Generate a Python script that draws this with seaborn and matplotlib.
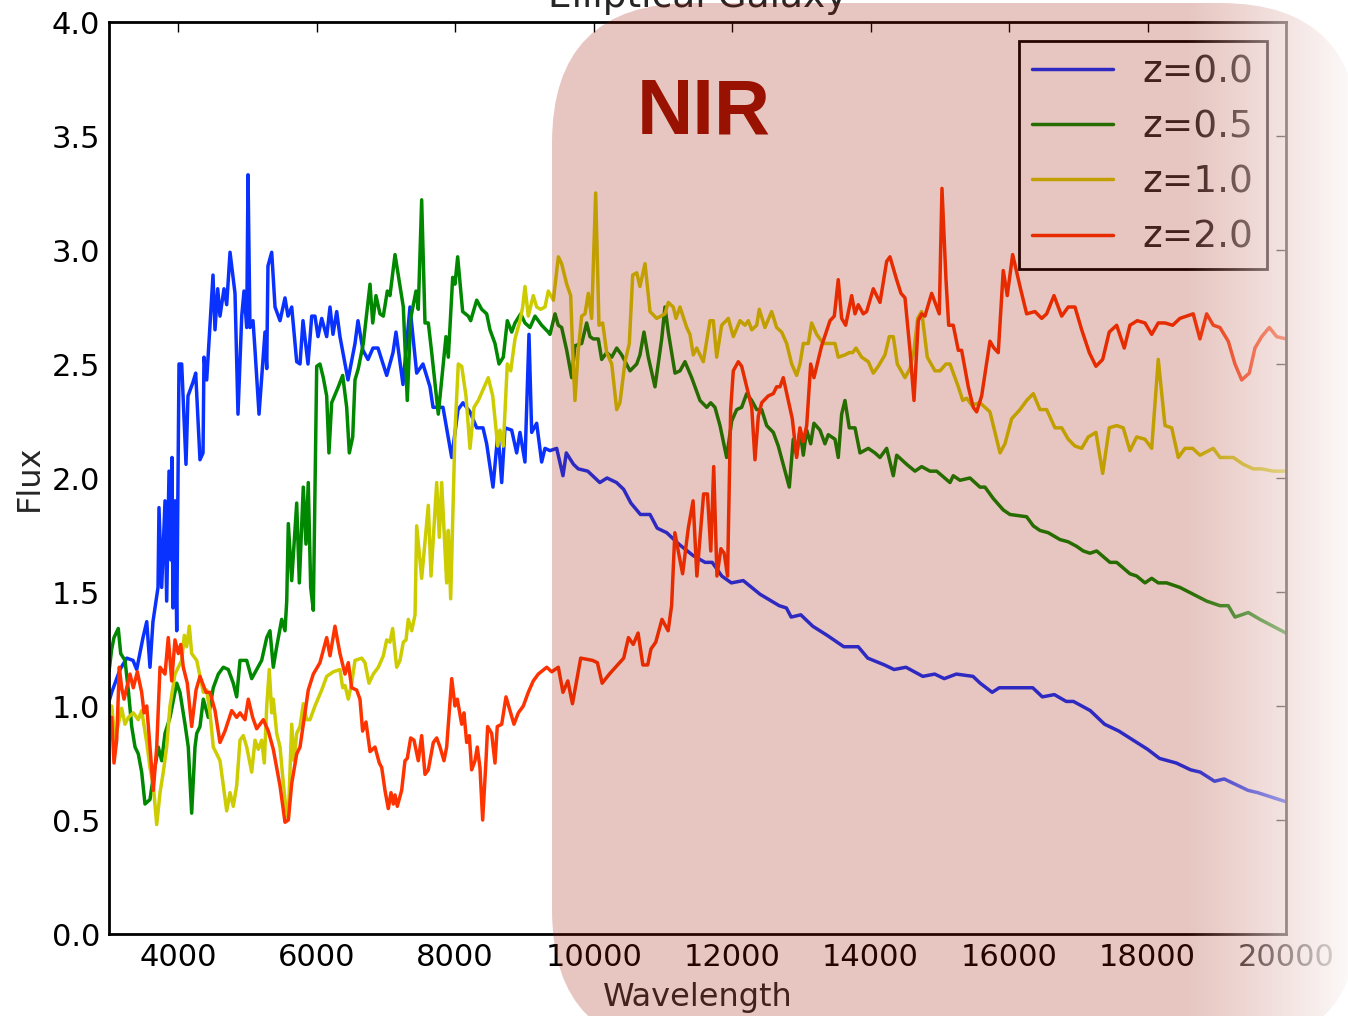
import numpy as np
import pandas as pd
import matplotlib
matplotlib.use("Agg")
import matplotlib.pyplot as plt
from matplotlib.patches import FancyBboxPatch
import seaborn as sns

# ---------------- data ----------------
wl_z00 = [3000, 3039, 3159, 3256, 3347, 3400, 3491, 3545, 3592, 3635, 3708, 3722, 3761, 3809, 3833, 3867,
          3895, 3910, 3924, 3953, 3978, 4011, 4050, 4112, 4141, 4213, 4252, 4314, 4358, 4372, 4411, 4502,
          4531, 4570, 4603, 4661, 4700, 4748, 4820, 4863, 4917, 4950, 4989, 5008, 5036, 5080, 5109, 5167,
          5253, 5278, 5296, 5350, 5398, 5470, 5542, 5585, 5639, 5711, 5759, 5802, 5874, 5928, 5975, 6019,
          6072, 6144, 6192, 6235, 6289, 6336, 6452, 6553, 6596, 6668, 6741, 6813, 6885, 7011, 7102, 7145,
          7246, 7347, 7444, 7535, 7636, 7680, 7824, 7950, 8041, 8113, 8214, 8311, 8402, 8455, 8546, 8618,
          8672, 8719, 8816, 8888, 8936, 9008, 9066, 9105, 9177, 9249, 9297, 9369, 9466, 9557, 9605, 9709,
          9778, 9915, 10089, 10193, 10331, 10434, 10538, 10676, 10814, 10918, 11056, 11230, 11436, 11609,
          11712, 11851, 11989, 12161, 12404, 12680, 12784, 12853, 12992, 13164, 13372, 13613, 13821, 13959,
          14201, 14339, 14511, 14754, 14926, 15064, 15238, 15479, 15583, 15756, 15859, 16067, 16342, 16481,
          16654, 16826, 16930, 17172, 17380, 17586, 17794, 18001, 18174, 18415, 18623, 18762, 18968, 19107,
          19452, 19591, 20000]
fl_z00 = [1.02, 1.06, 1.16, 1.21, 1.20, 1.16, 1.30, 1.37, 1.17, 1.37, 1.52, 1.87, 1.52, 1.90, 1.46, 2.03,
          1.64, 2.09, 1.43, 1.90, 1.33, 2.50, 2.50, 2.06, 2.36, 2.42, 2.46, 2.08, 2.11, 2.53, 2.43, 2.89,
          2.65, 2.83, 2.71, 2.83, 2.76, 2.99, 2.81, 2.28, 2.71, 2.82, 2.66, 3.33, 2.66, 2.69, 2.56, 2.28,
          2.64, 2.48, 2.93, 2.99, 2.75, 2.69, 2.79, 2.71, 2.75, 2.51, 2.50, 2.69, 2.50, 2.71, 2.71, 2.62,
          2.70, 2.62, 2.75, 2.63, 2.73, 2.62, 2.43, 2.59, 2.69, 2.56, 2.52, 2.57, 2.57, 2.45, 2.55, 2.64,
          2.41, 2.75, 2.46, 2.50, 2.40, 2.31, 2.31, 2.09, 2.30, 2.33, 2.29, 2.22, 2.22, 2.15, 1.96, 2.20,
          1.98, 2.22, 2.21, 2.11, 2.20, 2.07, 2.63, 2.20, 2.24, 2.07, 2.13, 2.12, 2.13, 2.01, 2.11, 2.06,
          2.04, 2.03, 1.98, 2.00, 1.98, 1.95, 1.89, 1.84, 1.84, 1.78, 1.76, 1.71, 1.66, 1.63,
          1.63, 1.57, 1.54, 1.55, 1.49, 1.44, 1.43, 1.39, 1.40, 1.35, 1.31, 1.26, 1.26, 1.21,
          1.18, 1.16, 1.17, 1.13, 1.14, 1.12, 1.14, 1.13, 1.10, 1.06, 1.08, 1.08, 1.08, 1.04,
          1.05, 1.02, 1.02, 0.98, 0.92, 0.89, 0.85, 0.81, 0.77, 0.75, 0.72, 0.71, 0.67, 0.68,
          0.63, 0.62, 0.58]

wl_z05 = [3000, 3039, 3072, 3134, 3169, 3231, 3279, 3328, 3376, 3423, 3472, 3520, 3592, 3640, 3712, 3761,
          3809, 3881, 3978, 4025, 4098, 4145, 4194, 4242, 4267, 4314, 4362, 4434, 4506, 4579, 4651, 4723,
          4795, 4844, 4892, 4989, 5061, 5133, 5205, 5278, 5325, 5373, 5422, 5494, 5542, 5567, 5590, 5639,
          5711, 5749, 5806, 5845, 5878, 5913, 5951, 6000, 6047, 6095, 6144, 6177, 6216, 6312, 6375, 6433,
          6471, 6520, 6553, 6601, 6673, 6770, 6809, 6856, 6914, 6962, 7020, 7058, 7131, 7251, 7308, 7357,
          7434, 7467, 7516, 7564, 7612, 7661, 7756, 7867, 7901, 7964, 7997, 8036, 8108, 8189, 8224, 8311,
          8383, 8455, 8503, 8575, 8633, 8695, 8753, 8816, 8864, 8946, 9008, 9081, 9153, 9249, 9345,
          9369, 9442, 9489, 9538, 9611, 9683, 9730, 9827, 9899, 9947, 9995, 10067, 10116, 10188, 10261,
          10333, 10405, 10525, 10622, 10669, 10727, 10789, 10886, 10983, 11030, 11078, 11175, 11247, 11319,
          11416, 11536, 11633, 11690, 11752, 11825, 11921, 11994, 12066, 12138, 12210, 12283, 12355, 12427,
          12499, 12595, 12667, 12826, 12883, 12932, 12980, 13028, 13077, 13135, 13182, 13269, 13341, 13389,
          13486, 13533, 13582, 13630, 13692, 13775, 13847, 13967, 14063, 14136, 14232, 14328, 14377, 14449,
          14521, 14641, 14738, 14858, 14955, 15147, 15194, 15291, 15435, 15580, 15652, 15772, 15916, 16013,
          16254, 16350, 16446, 16566, 16735, 16855, 16977, 17072, 17169, 17265, 17457, 17554, 17746, 17843,
          17963, 18060, 18155, 18276, 18468, 18660, 18854, 19046, 19166, 19263, 19455, 19624, 20000]
fl_z05 = [1.15, 1.25, 1.30, 1.34, 1.23, 1.20, 1.07, 0.91, 0.82, 0.79, 0.71, 0.57, 0.59, 0.69, 0.82, 0.76,
          0.88, 0.95, 1.10, 1.06, 0.92, 0.82, 0.53, 0.82, 0.88, 0.91, 1.03, 0.95, 1.08, 1.14, 1.17, 1.16,
          1.10, 1.04, 1.20, 1.20, 1.12, 1.16, 1.20, 1.30, 1.33, 1.17, 1.26, 1.38, 1.33, 1.46, 1.80, 1.55,
          1.89, 1.54, 1.96, 1.71, 1.98, 1.52, 1.42, 2.49, 2.50, 2.44, 2.36, 2.11, 2.33, 2.40, 2.45, 2.31,
          2.11, 2.18, 2.43, 2.48, 2.59, 2.85, 2.68, 2.80, 2.72, 2.71, 2.82, 2.80, 2.98, 2.75, 2.34, 2.70,
          2.82, 2.74, 3.22, 2.68, 2.68, 2.55, 2.28, 2.62, 2.53, 2.88, 2.85, 2.97, 2.73, 2.71, 2.69, 2.78,
          2.74, 2.72, 2.65, 2.59, 2.50, 2.53, 2.69, 2.64, 2.68, 2.72, 2.68, 2.66, 2.71, 2.67, 2.64,
          2.63, 2.72, 2.67, 2.66, 2.56, 2.44, 2.58, 2.59, 2.68, 2.62, 2.61, 2.61, 2.52, 2.55, 2.53,
          2.57, 2.54, 2.47, 2.50, 2.54, 2.64, 2.53, 2.40, 2.61, 2.75, 2.64, 2.46, 2.47, 2.51,
          2.44, 2.34, 2.31, 2.33, 2.31, 2.23, 2.09, 2.25, 2.30, 2.31, 2.37, 2.34, 2.30, 2.30,
          2.23, 2.20, 2.14, 1.96, 2.17, 2.10, 2.21, 2.10, 2.21, 2.15, 2.24, 2.21, 2.15, 2.19,
          2.17, 2.09, 2.28, 2.34, 2.22, 2.22, 2.11, 2.13, 2.11, 2.09, 2.13, 2.01, 2.10, 2.08,
          2.06, 2.03, 2.05, 2.03, 2.03, 1.98, 2.01, 1.99, 2.00, 1.96, 1.96, 1.91, 1.86, 1.84,
          1.83, 1.79, 1.77, 1.76, 1.73, 1.72, 1.70, 1.68, 1.67, 1.68, 1.63, 1.63, 1.58, 1.57,
          1.54, 1.56, 1.54, 1.54, 1.52, 1.49, 1.46, 1.44, 1.44, 1.39, 1.41, 1.38, 1.32]

wl_z10 = [3000, 3039, 3087, 3134, 3183, 3231, 3279, 3351, 3423, 3472, 3545, 3592, 3640, 3689, 3737, 3784,
          3833, 3881, 3953, 4050, 4088, 4122, 4160, 4194, 4267, 4314, 4362, 4411, 4459, 4506, 4556, 4603,
          4651, 4700, 4748, 4795, 4844, 4892, 4940, 4989, 5061, 5109, 5156, 5205, 5243, 5278, 5315, 5350,
          5373, 5422, 5470, 5509, 5552, 5590, 5639, 5672, 5711, 5759, 5806, 5855, 5903, 5975, 6072, 6144,
          6240, 6336, 6375, 6409, 6456, 6505, 6553, 6650, 6697, 6755, 6817, 6890, 6962, 7011, 7058, 7097,
          7155, 7203, 7251, 7290, 7323, 7372, 7420, 7444, 7516, 7612, 7651, 7733, 7771, 7805, 7877, 7901,
          7935, 7997, 8045, 8094, 8156, 8214, 8272, 8334, 8406, 8478, 8542, 8614, 8647, 8695, 8753, 8802,
          8864, 8936, 8975, 9008, 9056, 9128, 9177, 9235, 9297, 9345, 9418, 9490, 9538, 9611, 9668, 9697,
          9730, 9778, 9827, 9875, 9923, 9971, 10029, 10077, 10130, 10188, 10261, 10333, 10380, 10453, 10515,
          10564, 10622, 10669, 10742, 10814, 10911, 11030, 11078, 11150, 11189, 11247, 11344, 11391, 11439,
          11488, 11584, 11680, 11728, 11777, 11849, 11945, 12017, 12114, 12186, 12234, 12283, 12355, 12392,
          12474, 12571, 12643, 12715, 12788, 12860, 12932, 12980, 13028, 13101, 13148, 13221, 13317, 13414,
          13486, 13533, 13630, 13692, 13741, 13789, 13871, 13967, 14039, 14111, 14208, 14270, 14328, 14386,
          14497, 14569, 14627, 14680, 14738, 14819, 14930, 15002, 15089, 15147, 15267, 15331, 15388, 15460,
          15580, 15724, 15797, 15869, 15941, 16038, 16158, 16254, 16350, 16446, 16543, 16663, 16760, 16855,
          16952, 17049, 17144, 17255, 17352, 17447, 17554, 17649, 17746, 17843, 17963, 18060, 18155, 18252,
          18349, 18444, 18541, 18652, 18757, 18950, 19046, 19239, 19383, 19528, 19649, 19817, 20000]
fl_z10 = [1.00, 1.00, 0.85, 0.92, 0.99, 0.92, 0.95, 0.97, 0.94, 0.98, 0.84, 0.73, 0.65, 0.48, 0.62, 0.71,
          0.82, 1.00, 1.14, 1.20, 1.31, 1.26, 1.35, 1.23, 1.20, 1.13, 1.06, 1.07, 0.97, 0.82, 0.79, 0.76,
          0.65, 0.54, 0.62, 0.56, 0.65, 0.85, 0.87, 0.82, 0.71, 0.85, 0.81, 0.85, 0.75, 1.00, 1.16, 0.97,
          1.03, 0.88, 0.82, 0.69, 0.56, 0.51, 0.92, 0.76, 0.88, 0.91, 1.01, 0.94, 0.94, 1.00, 1.07, 1.13,
          1.15, 1.16, 1.08, 1.09, 1.03, 1.10, 1.20, 1.21, 1.19, 1.10, 1.14, 1.17, 1.22, 1.29, 1.28, 1.34,
          1.17, 1.20, 1.28, 1.29, 1.38, 1.33, 1.40, 1.79, 1.56, 1.88, 1.57, 1.98, 1.74, 1.98, 1.54, 1.77,
          1.47, 2.20, 2.50, 2.49, 2.36, 2.13, 2.31, 2.34, 2.39, 2.44, 2.36, 2.14, 2.21, 2.14, 2.50, 2.47,
          2.61, 2.69, 2.75, 2.84, 2.71, 2.80, 2.75, 2.74, 2.75, 2.82, 2.78, 2.97, 2.94, 2.85, 2.80, 2.56,
          2.34, 2.56, 2.71, 2.72, 2.81, 2.70, 3.25, 2.67, 2.68, 2.55, 2.50, 2.30, 2.33, 2.51, 2.59,
          2.89, 2.90, 2.84, 2.94, 2.73, 2.70, 2.72, 2.77, 2.75, 2.70, 2.75, 2.66, 2.63, 2.54,
          2.57, 2.51, 2.69, 2.69, 2.53, 2.67, 2.70, 2.62, 2.69, 2.67, 2.69, 2.65, 2.67, 2.74,
          2.66, 2.73, 2.66, 2.64, 2.59, 2.50, 2.45, 2.50, 2.59, 2.59, 2.68, 2.63, 2.59, 2.59,
          2.59, 2.53, 2.54, 2.55, 2.55, 2.57, 2.53, 2.51, 2.46, 2.49, 2.54, 2.62, 2.62, 2.50,
          2.44, 2.48, 2.56, 2.70, 2.73, 2.53, 2.47, 2.47, 2.50, 2.50, 2.40, 2.34, 2.35, 2.32,
          2.33, 2.29, 2.20, 2.11, 2.15, 2.26, 2.30, 2.34, 2.37, 2.30, 2.30, 2.22, 2.22, 2.17,
          2.14, 2.13, 2.18, 2.20, 2.02, 2.22, 2.23, 2.22, 2.12, 2.18, 2.17, 2.13, 2.52, 2.23,
          2.22, 2.09, 2.13, 2.13, 2.10, 2.13, 2.09, 2.09, 2.06, 2.04, 2.04, 2.03, 2.03]

wl_z20 = [3000, 3039, 3072, 3111, 3149, 3183, 3217, 3303, 3351, 3409, 3472, 3506, 3545, 3592, 3640, 3689,
          3737, 3809, 3856, 3906, 3953, 4001, 4036, 4073, 4131, 4194, 4257, 4314, 4401, 4459, 4531, 4603,
          4675, 4772, 4844, 4892, 4964, 5012, 5075, 5133, 5229, 5301, 5373, 5470, 5542, 5590, 5639, 5711,
          5759, 5831, 5878, 5951, 6047, 6144, 6192, 6264, 6336, 6409, 6456, 6505, 6577, 6625, 6663, 6712,
          6770, 6842, 6904, 6939, 6986, 7034, 7073, 7106, 7131, 7164, 7227, 7275, 7308, 7357, 7405, 7467,
          7516, 7564, 7612, 7684, 7733, 7781, 7838, 7877, 7950, 7997, 8031, 8094, 8127, 8166, 8204, 8238,
          8286, 8319, 8358, 8397, 8445, 8469, 8527, 8575, 8608, 8672, 8734, 8792, 8849, 8912, 8984, 9056,
          9128, 9200, 9322, 9394, 9490, 9557, 9627, 9694, 9813, 9985, 10054, 10123, 10227, 10434, 10503,
          10572, 10642, 10711, 10781, 10828, 10897, 10987, 11076, 11126, 11173, 11228, 11285, 11367, 11436,
          11491, 11588, 11644, 11692, 11734, 11781, 11838, 11885, 11934, 11979, 12017, 12089, 12138, 12210,
          12283, 12330, 12378, 12427, 12522, 12595, 12643, 12691, 12739, 12811, 12869, 12932, 12980, 13028,
          13077, 13135, 13182, 13293, 13414, 13476, 13533, 13582, 13640, 13727, 13775, 13822, 13894, 13943,
          14039, 14136, 14232, 14280, 14376, 14439, 14497, 14569, 14627, 14689, 14738, 14785, 14882, 14992,
          15031, 15089, 15128, 15194, 15267, 15315, 15411, 15483, 15532, 15604, 15724, 15782, 15844, 15916,
          15974, 16052, 16158, 16254, 16374, 16471, 16543, 16649, 16760, 16855, 16952, 17049, 17159, 17255,
          17352, 17447, 17554, 17664, 17746, 17852, 17963, 18060, 18155, 18252, 18363, 18468, 18565, 18660,
          18757, 18854, 18950, 19046, 19166, 19263, 19360, 19470, 19552, 19649, 19759, 19865, 20000]
fl_z20 = [0.95, 0.95, 0.75, 0.85, 1.17, 1.08, 1.03, 1.14, 1.08, 1.15, 1.06, 0.97, 1.00, 0.82, 0.63, 0.82,
          1.17, 1.14, 1.30, 1.11, 1.29, 1.23, 1.27, 1.17, 1.10, 0.91, 1.07, 1.13, 1.06, 1.06, 0.98, 0.84,
          0.89, 0.98, 0.95, 0.97, 0.94, 1.03, 0.95, 0.90, 0.94, 0.89, 0.81, 0.65, 0.49, 0.50, 0.66, 0.79,
          0.82, 0.97, 1.07, 1.14, 1.19, 1.30, 1.22, 1.35, 1.23, 1.14, 1.19, 1.08, 1.07, 1.03, 0.89, 0.93,
          0.80, 0.82, 0.75, 0.73, 0.63, 0.55, 0.62, 0.57, 0.61, 0.56, 0.63, 0.76, 0.77, 0.86, 0.85, 0.76,
          0.87, 0.70, 0.72, 0.84, 0.86, 0.82, 0.76, 0.82, 1.12, 1.00, 1.03, 0.92, 0.97, 0.84, 0.87, 0.72,
          0.76, 0.82, 0.73, 0.50, 0.76, 0.91, 0.88, 0.75, 0.91, 0.92, 1.04, 0.98, 0.92, 0.97, 1.00, 1.06,
          1.11, 1.14, 1.17, 1.15, 1.17, 1.06, 1.11, 1.01, 1.21, 1.20, 1.19, 1.10, 1.14, 1.21, 1.30,
          1.27, 1.32, 1.18, 1.18, 1.25, 1.28, 1.38, 1.33, 1.44, 1.76, 1.67, 1.58, 1.78, 1.90,
          1.57, 1.93, 1.93, 1.68, 2.05, 1.57, 1.69, 1.67, 1.57, 2.30, 2.47, 2.51, 2.49, 2.40,
          2.31, 2.08, 2.27, 2.33, 2.36, 2.37, 2.40, 2.40, 2.44, 2.34, 2.26, 2.09, 2.22, 2.16,
          2.23, 2.50, 2.44, 2.58, 2.69, 2.71, 2.87, 2.70, 2.67, 2.80, 2.72, 2.76, 2.72, 2.73,
          2.83, 2.77, 2.95, 2.97, 2.87, 2.81, 2.79, 2.56, 2.34, 2.69, 2.72, 2.71, 2.81, 2.72,
          3.27, 2.87, 2.67, 2.67, 2.56, 2.56, 2.40, 2.31, 2.29, 2.36, 2.60, 2.57, 2.55, 2.91,
          2.80, 2.98, 2.84, 2.72, 2.73, 2.70, 2.72, 2.80, 2.71, 2.75, 2.75, 2.65, 2.55, 2.49,
          2.52, 2.64, 2.67, 2.57, 2.67, 2.69, 2.68, 2.63, 2.68, 2.68, 2.67, 2.70, 2.71, 2.72,
          2.61, 2.72, 2.67, 2.66, 2.60, 2.50, 2.43, 2.46, 2.57, 2.62, 2.66, 2.62, 2.61]

labels = ["z=0.0", "z=0.5", "z=1.0", "z=2.0"]
colors = ["#0a32ff", "#008800", "#cccc00", "#ff3300"]
xticks = [4000, 6000, 8000, 10000, 12000, 14000, 16000, 18000, 20000]
yticks = [0.0, 0.5, 1.0, 1.5, 2.0, 2.5, 3.0, 3.5, 4.0]

frames = []
for lab, wl, fl in zip(labels, [wl_z00, wl_z05, wl_z10, wl_z20], [fl_z00, fl_z05, fl_z10, fl_z20]):
    frames.append(pd.DataFrame({"Wavelength": wl, "Flux": fl, "z": lab}))
df = pd.concat(frames, ignore_index=True)

# ---------------- styling ----------------
sns.set_theme(style="white")
plt.rcParams["font.family"] = ["DejaVu Sans"]
plt.rcParams["axes.edgecolor"] = "black"

W, H = 1348, 1016
fig = plt.figure(figsize=(W / 100, H / 100), dpi=100)
ax = fig.add_axes([109 / W, (H - 934) / H, (1286 - 109) / W, (934 - 22) / H])

sns.lineplot(data=df, x="Wavelength", y="Flux", hue="z", hue_order=labels,
             palette=dict(zip(labels, colors)), estimator=None, errorbar=None,
             sort=False, linewidth=2.5, ax=ax)

ax.set_xlim(3000, 20000)
ax.set_ylim(0, 4)
ax.set_xticks(xticks)
ax.set_xticklabels([str(t) for t in xticks])
ax.set_yticks(yticks)
ax.set_yticklabels([f"{t:.1f}" for t in yticks])
ax.tick_params(direction="in", length=7, width=1, top=True, right=True,
               labelsize=22, pad=6.5, colors="black")
for s in ax.spines.values():
    s.set_linewidth(2)
    s.set_color("black")
ax.set_xlabel("Wavelength", fontsize=23, labelpad=7)
ax.set_ylabel("Flux", fontsize=23, labelpad=5)
ax.set_title("Elliptical Galaxy", fontsize=27, pad=11)

handles, labs = ax.get_legend_handles_labels()
leg = ax.legend(handles[-4:], labs[-4:], loc="upper right", fontsize=27, handlelength=2.15,
                handletextpad=0.8, labelspacing=0.51, borderpad=0.36, borderaxespad=0.5,
                frameon=True, fancybox=False, framealpha=1, facecolor="white",
                edgecolor="black")
leg.get_frame().set_linewidth(2)
for line in leg.get_lines():
    line.set_linewidth(2.5)

# ---------------- NIR highlight overlay ----------------
ov = fig.add_axes([0, 0, 1, 1], zorder=10)
ov.set_xlim(0, W)
ov.set_ylim(H, 0)
ov.axis("off")
ov.patch.set_alpha(0)

box = FancyBboxPatch((552, 3), 1360 - 552, 1050 - 3,
                     boxstyle="round,pad=0,rounding_size=140",
                     facecolor="#a01500", edgecolor="none", alpha=0.245, zorder=1)
ov.add_patch(box)

ov.text(10620, 3.51, "NIR", transform=ax.transData, fontsize=56, fontweight="bold",
        family=["Liberation Sans", "DejaVu Sans"], color="#991100",
        ha="left", va="baseline", zorder=3)

grad = np.ones((2, 256, 4))
grad[..., 3] = np.linspace(0, 0.9, 256)[None, :] ** 1.1
ov.imshow(grad, extent=(1185, W, H, 0), aspect="auto", interpolation="bilinear", zorder=5)
ov.set_xlim(0, W)
ov.set_ylim(H, 0)

fig.savefig("out.png", dpi=100)
